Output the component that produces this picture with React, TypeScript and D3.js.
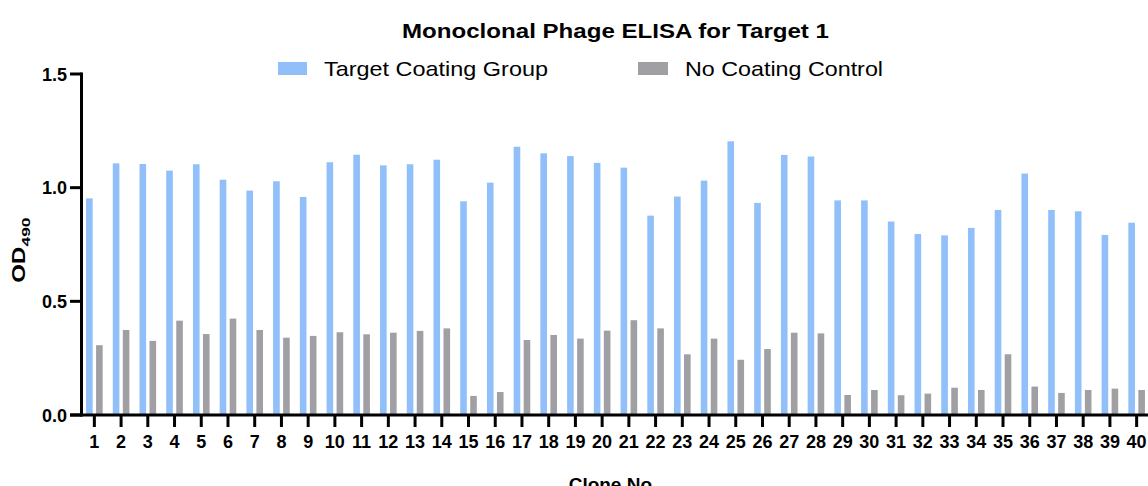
import React from "react";
import * as d3 from "d3";

const clones: string[] = Array.from({ length: 40 }, (_, i) => String(i + 1));
const targetCoating: number[] = [
  0.953, 1.107, 1.104, 1.075, 1.103, 1.035, 0.987, 1.028, 0.959, 1.112,
  1.145, 1.098, 1.103, 1.123, 0.94, 1.022, 1.18, 1.151, 1.139, 1.109,
  1.088, 0.877, 0.961, 1.031, 1.204, 0.933, 1.144, 1.137, 0.944, 0.944,
  0.851, 0.796, 0.79, 0.823, 0.902, 1.062, 0.902, 0.896, 0.792, 0.846,
];
const noCoating: number[] = [
  0.307, 0.374, 0.326, 0.415, 0.356, 0.424, 0.374, 0.34, 0.348, 0.364,
  0.355, 0.362, 0.37, 0.381, 0.084, 0.101, 0.33, 0.352, 0.336, 0.371,
  0.417, 0.381, 0.267, 0.336, 0.243, 0.29, 0.362, 0.359, 0.088, 0.11,
  0.087, 0.094, 0.12, 0.11, 0.267, 0.125, 0.097, 0.11, 0.116, 0.11,
];
const seriesNames: string[] = ["Target Coating Group", "No Coating Control"];
const seriesColors: string[] = ["#90bff9", "#a09fa4"];
const yTicks: number[] = [0, 0.5, 1.0, 1.5];

const W = 1148;
const H = 486;
const FONT = "'Liberation Sans', Arial, Helvetica, sans-serif";

export default function App() {
  const y = d3.scaleLinear().domain([0, 1.5]).range([415, 74]);
  const x0 = d3.scaleBand<string>().domain(clones).range([81, 1150]).padding(0);
  const x1 = d3.scaleBand<string>().domain(["t", "c"]).range([-8.3, 8.3]).paddingInner(0.34).paddingOuter(0);
  const center = (c: string) => (x0(c) as number) + x0.bandwidth() / 2;
  const axisX = 81.5;

  return (
    <svg width={W} height={H} style={{ position: "absolute", left: 0, top: 0, background: "#fff" }} fontFamily={FONT}>
      <rect x={0} y={0} width={W} height={H} fill="#fff" />
      <text x={402} y={38} fontWeight="bold" fontSize={20.5} fill="#000" textLength={427} lengthAdjust="spacingAndGlyphs">
        Monoclonal Phage ELISA for Target 1
      </text>
      {/* legend */}
      <rect x={278} y={62} width={29} height={13} fill={seriesColors[0]} />
      <text x={324} y={76} fontSize={21} fill="#000" textLength={224} lengthAdjust="spacingAndGlyphs">{seriesNames[0]}</text>
      <rect x={638} y={62} width={30} height={13} fill={seriesColors[1]} />
      <text x={685} y={76} fontSize={21} fill="#000" textLength={198} lengthAdjust="spacingAndGlyphs">{seriesNames[1]}</text>

      {/* bars */}
      {clones.map((c, i) => (
        <g key={c}>
          <rect
            x={center(c) + (x1("t") as number)}
            y={y(targetCoating[i])}
            width={x1.bandwidth()}
            height={y(0) - y(targetCoating[i])}
            fill={seriesColors[0]}
          />
          <rect
            x={center(c) + (x1("c") as number)}
            y={y(noCoating[i])}
            width={x1.bandwidth()}
            height={y(0) - y(noCoating[i])}
            fill={seriesColors[1]}
          />
        </g>
      ))}

      {/* y axis */}
      <line x1={axisX} x2={axisX} y1={y(1.5) - 1.5} y2={y(0) + 1.5} stroke="#000" strokeWidth={3} />
      {yTicks.map((t) => (
        <g key={t}>
          <line x1={70} x2={axisX} y1={y(t)} y2={y(t)} stroke="#000" strokeWidth={3} />
          <text x={67} y={y(t) + 6.5} textAnchor="end" fontWeight="bold" fontSize={18} fill="#000">
            {t.toFixed(1)}
          </text>
        </g>
      ))}
      {/* x axis */}
      <line x1={70} x2={W} y1={y(0)} y2={y(0)} stroke="#000" strokeWidth={3} />
      {clones.map((c) => (
        <g key={c}>
          <line x1={center(c)} x2={center(c)} y1={y(0)} y2={427} stroke="#000" strokeWidth={3} />
          <text x={center(c)} y={448} textAnchor="middle" fontWeight="bold" fontSize={18} fill="#000">
            {c}
          </text>
        </g>
      ))}
      <text x={613} y={490.5} textAnchor="middle" fontWeight="bold" fontSize={19} fill="#000">
        Clone No.
      </text>
      {/* y title */}
      <g transform="translate(25,250) rotate(-90)">
        <text x={-32.7} y={0} fontWeight="bold" fontSize={18} fill="#000" textLength={36} lengthAdjust="spacingAndGlyphs">
          OD
        </text>
        <text x={3.5} y={5} fontWeight="bold" fontSize={11} fill="#000" textLength={29} lengthAdjust="spacingAndGlyphs">
          490
        </text>
      </g>
    </svg>
  );
}
